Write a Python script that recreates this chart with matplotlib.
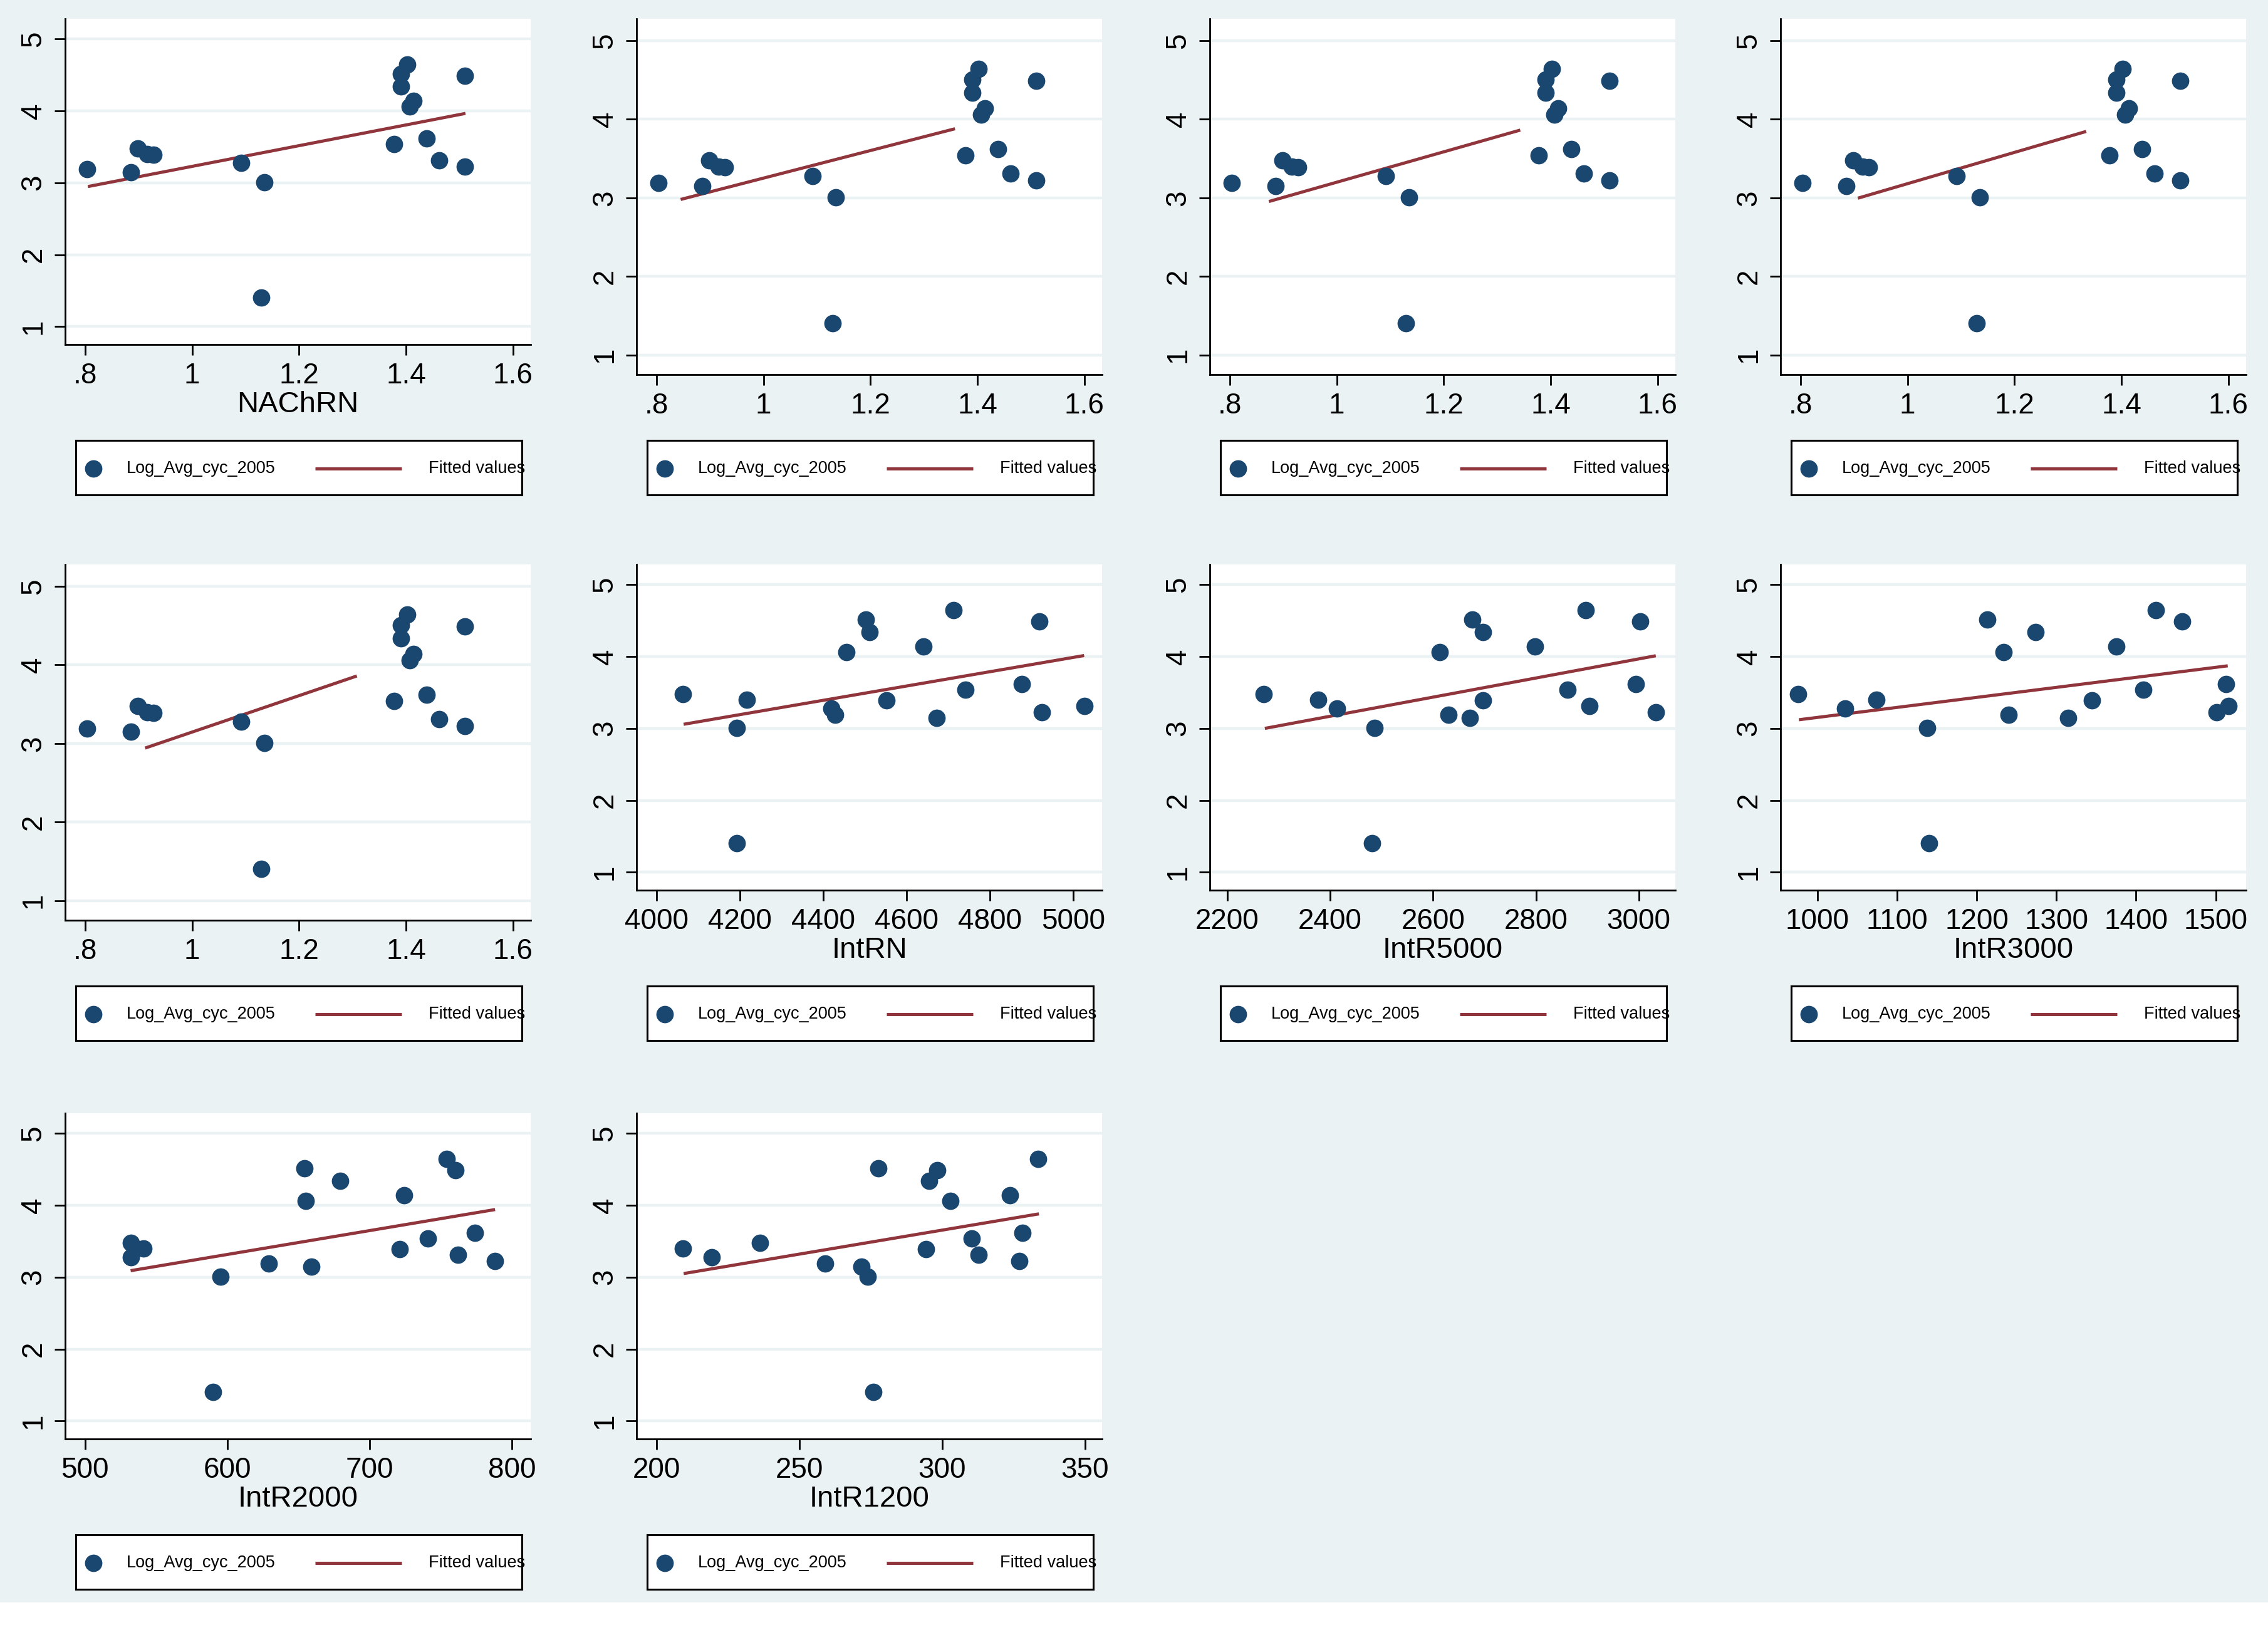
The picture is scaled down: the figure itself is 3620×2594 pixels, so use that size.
"""Scatter grid: Log_Avg_cyc_2005 against network measures, with fitted lines."""

import matplotlib.pyplot as plt
from matplotlib.patches import Rectangle

plt.rcParams["font.family"] = ["Liberation Sans", "DejaVu Sans"]

# ---- data (one entry per observation, same order in every list) ----
log_avg_cyc_2005 = [3.19, 3.15, 3.48, 3.40, 3.39, 3.28, 3.01, 1.40, 3.54,
                    4.51, 4.34, 4.64, 4.14, 4.06, 3.62, 3.31, 4.49, 3.22]

nachrn = [0.803, 0.886, 0.898, 0.916, 0.928, 1.092, 1.135, 1.129, 1.378,
          1.390, 1.390, 1.402, 1.414, 1.407, 1.439, 1.462, 1.510, 1.510]
intrn = [4429, 4672, 4064, 4217, 4552, 4420, 4192, 4192, 4742,
         4502, 4512, 4713, 4641, 4456, 4876, 5027, 4918, 4924]
intr5000 = [2630, 2671, 2271, 2377, 2697, 2413, 2486, 2481, 2861,
            2676, 2697, 2897, 2798, 2613, 2994, 2904, 3003, 3033]
intr3000 = [1240, 1315, 976, 1074, 1345, 1035, 1138, 1140, 1409,
            1213, 1274, 1425, 1375, 1234, 1513, 1516, 1458, 1501]
intr2000 = [629, 659, 532, 541, 721, 532, 595, 590, 741,
            654, 679, 754, 724, 655, 774, 762, 760, 788]
intr1200 = [259.1, 271.8, 236.2, 209.3, 294.4, 219.4, 274.0, 275.9, 310.3,
            277.6, 295.4, 333.6, 323.8, 302.9, 328.1, 312.8, 298.2, 327.1]

# panel order: 4 per row
panel_titles = ["NAChRN", "", "", "", "", "IntRN", "IntR5000", "IntR3000",
                "IntR2000", "IntR1200"]
panel_x = [nachrn, nachrn, nachrn, nachrn, nachrn, intrn, intr5000, intr3000,
           intr2000, intr1200]

# fitted-value line end points per panel
fit_x0 = [0.805, 0.845, 0.873, 0.907, 0.912, 4065, 2273, 977, 532, 209.5]
fit_x1 = [1.511, 1.358, 1.343, 1.334, 1.308, 5026, 3033, 1515, 788, 333.9]
fit_y0 = [2.947, 2.980, 2.954, 2.996, 2.942, 3.057, 3.000, 3.120, 3.090, 3.050]
fit_y1 = [3.964, 3.880, 3.863, 3.846, 3.860, 4.013, 4.010, 3.870, 3.940, 3.880]

nachrn_ticks = [0.8, 1.0, 1.2, 1.4, 1.6]
nachrn_labels = [".8", "1", "1.2", "1.4", "1.6"]
x_ticks = [nachrn_ticks] * 5 + [
    [4000, 4200, 4400, 4600, 4800, 5000],
    [2200, 2400, 2600, 2800, 3000],
    [1000, 1100, 1200, 1300, 1400, 1500],
    [500, 600, 700, 800],
    [200, 250, 300, 350],
]
x_labels = [nachrn_labels] * 5 + [[str(t) for t in ts] for ts in x_ticks[5:]]
x_limits = [(0.7625, 1.633)] * 5 + [(3952, 5069), (2166, 3071), (954, 1538),
                                    (486, 813), (193, 356)]

# ---- style ----
BG = "#EAF2F3"
NAVY = "#1A476F"
MAROON = "#90353B"

W, H = 3620, 2594
fig = plt.figure(figsize=(W / 100, H / 100), dpi=100)
fig.patch.set_facecolor("white")
fig.patches.append(Rectangle((0, 36 / H), 1, 2558 / H, transform=fig.transFigure,
                             facecolor=BG, edgecolor="none", zorder=-1))

col_left = [104, 1016, 1931, 2842]
row_top = [30, 901, 1777]
AX_W = 743


def frac(left, top, w, h):
    return [left / W, 1 - (top + h) / H, w / W, h / H]


for i, title in enumerate(panel_titles):
    r, c = divmod(i, 4)
    left, top = col_left[c], row_top[r]
    h = 520 if title else 568
    ax = fig.add_axes(frac(left, top, AX_W, h))
    ax.set_facecolor("white")

    ax.scatter(panel_x[i], log_avg_cyc_2005, s=400, color=NAVY, zorder=3,
               linewidths=0)
    ax.plot([fit_x0[i], fit_x1[i]], [fit_y0[i], fit_y1[i]], color=MAROON,
            lw=3.6, solid_capstyle="butt", zorder=2)

    ax.set_xlim(*x_limits[i])
    ax.set_ylim(0.75, 5.28)
    ax.set_xticks(x_ticks[i])
    ax.set_xticklabels(x_labels[i])
    ax.set_yticks([1, 2, 3, 4, 5])
    ax.set_yticklabels(["1", "2", "3", "4", "5"], rotation=90, va="center")
    ax.yaxis.grid(True, color=BG, lw=3.2)
    ax.set_axisbelow(True)
    for s in ("top", "right"):
        ax.spines[s].set_visible(False)
    for s in ("left", "bottom"):
        ax.spines[s].set_linewidth(2)
    ax.tick_params(axis="both", length=12.5, width=2, labelsize=33, pad=8)
    if title:
        ax.set_xlabel(title, fontsize=34, labelpad=1)

    # legend box drawn as its own small panel
    lax = fig.add_axes(frac(left + 17, top + 673, 712, 87))
    lax.set_xlim(0, 712)
    lax.set_ylim(87, 0)
    lax.set_xticks([])
    lax.set_yticks([])
    for sp in lax.spines.values():
        sp.set_linewidth(2.2)
    lax.plot([28], [45], "o", ms=20, color=NAVY, mew=0)
    lax.text(81, 45, "Log_Avg_cyc_2005", fontsize=19.5, va="center")
    lax.plot([382, 520], [45, 45], color=MAROON, lw=3.6, solid_capstyle="butt")
    lax.text(563, 45, "Fitted values", fontsize=19.5, va="center", clip_on=False)

fig.savefig("out.png", dpi=100, facecolor=fig.get_facecolor())
